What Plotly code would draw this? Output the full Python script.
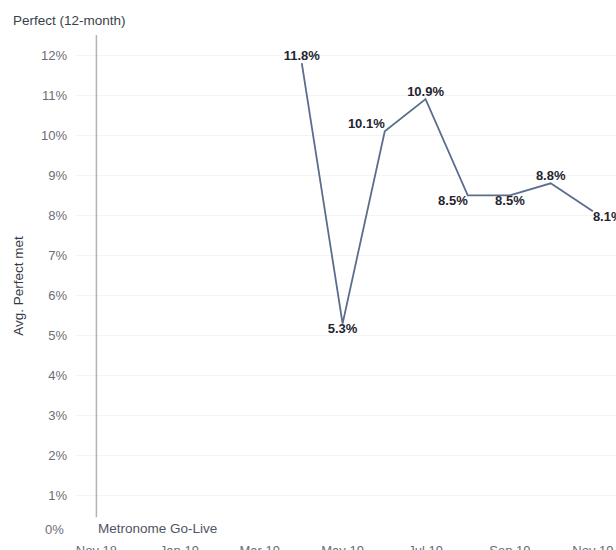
import plotly.graph_objects as go

months = ["2019-04-01", "2019-05-01", "2019-06-01", "2019-07-01",
          "2019-08-01", "2019-09-01", "2019-10-01", "2019-11-01"]
perfect_pct = [11.8, 5.3, 10.1, 10.9, 8.5, 8.5, 8.8, 8.1]
label_pos = ["top center", "bottom center", "top left", "top center",
             "bottom left", "bottom center", "top center", "bottom right"]

y_ticks = list(range(1, 13))
y_tick_text = [f"{v}%" for v in y_ticks]
x_ticks = ["2018-11-01", "2019-01-01", "2019-03-01", "2019-05-01",
           "2019-07-01", "2019-09-01", "2019-11-01"]
x_tick_text = ["Nov 18", "Jan 19", "Mar 19", "May 19", "Jul 19", "Sep 19", "Nov 19"]
go_live_date = "2018-11-01"
go_live_label = "Metronome Go-Live"

FONT = "Liberation Sans, Arial, sans-serif"

fig = go.Figure()
fig.add_trace(go.Scatter(
    x=months, y=perfect_pct,
    mode="lines+text",
    line=dict(color="#5b6d8e", width=1.8),
    text=[f"{v:.1f}%" for v in perfect_pct],
    textposition=label_pos,
    textfont=dict(family=FONT, size=13, color="#1f2530"),
    texttemplate="<b>%{text}</b>",
    cliponaxis=False,
    hoverinfo="skip",
    showlegend=False,
))

fig.add_shape(type="line", xref="x", yref="y",
              x0=go_live_date, x1=go_live_date, y0=0.47, y1=12.5,
              line=dict(color="#b3b3b3", width=1.5))
fig.add_annotation(x=go_live_date, y=0, xref="x", yref="y",
                   text=go_live_label, showarrow=False,
                   xanchor="left", yanchor="bottom", xshift=0, yshift=-2,
                   font=dict(family=FONT, size=13.5, color="#4f5566"))
fig.add_annotation(x=0, y=0, xref="paper", yref="y",
                   text="0%", showarrow=False,
                   xanchor="right", yanchor="middle", xshift=-10, yshift=7,
                   font=dict(family=FONT, size=13, color="#6b6e78"))
fig.add_annotation(x=-0.107, y=0.5, xref="paper", yref="paper",
                   text="Avg. Perfect met", showarrow=False, textangle=-90,
                   xanchor="center", yanchor="middle",
                   font=dict(family=FONT, size=13.5, color="#333a45"))

fig.update_layout(
    width=616, height=550,
    margin=dict(l=76, r=0, t=35, b=14),
    paper_bgcolor="white", plot_bgcolor="white",
    title=dict(text="Perfect (12-month)", x=13/616, xanchor="left",
               y=1 - 20/550, yanchor="middle", xref="container", yref="container",
               font=dict(family=FONT, size=13.5, color="#3a3f4a")),
    xaxis=dict(type="date", range=["2018-10-17", "2019-11-18"],
               tickvals=x_ticks, ticktext=x_tick_text,
               showgrid=False, zeroline=False, showline=False,
               automargin=False, ticklabelstandoff=5,
               tickfont=dict(family=FONT, size=13, color="#6b6e78")),
    yaxis=dict(range=[0, 12.5], tickvals=y_ticks, ticktext=y_tick_text,
               showgrid=True, gridcolor="#f4f4f4", gridwidth=1,
               zeroline=False, showline=False, automargin=False,
               ticklabelstandoff=8,
               tickfont=dict(family=FONT, size=13, color="#6b6e78")),
)

fig.write_html("out.html")
